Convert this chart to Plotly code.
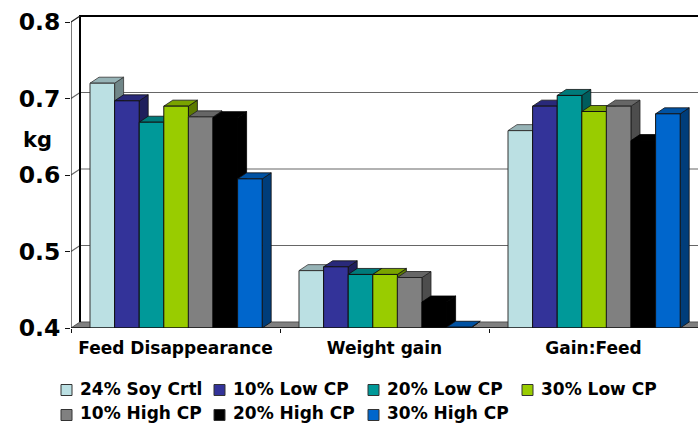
import plotly.graph_objects as go

categories = ["Feed Disappearance", "Weight gain", "Gain:Feed"]
series_names = ["24% Soy Crtl", "10% Low CP", "20% Low CP", "30% Low CP",
                "10% High CP", "20% High CP", "30% High CP"]
soy_ctrl = [0.720, 0.475, 0.658]
low_10 = [0.697, 0.480, 0.690]
low_20 = [0.669, 0.470, 0.704]
low_30 = [0.690, 0.470, 0.683]
high_10 = [0.676, 0.466, 0.690]
high_20 = [0.675, 0.434, 0.645]
high_30 = [0.595, 0.401, 0.680]
all_values = [soy_ctrl, low_10, low_20, low_30, high_10, high_20, high_30]
y_ticks = [0.4, 0.5, 0.6, 0.7, 0.8]

front = ["#BBE0E3", "#333399", "#009999", "#99CC00", "#808080", "#000000", "#0066CC"]
top = ["#96B3B6", "#29297A", "#007A7A", "#7AA300", "#666666", "#000000", "#0052A3"]
side = ["#708688", "#1F1F5C", "#005C5C", "#5C7A00", "#4D4D4D", "#000000", "#003D7A"]
edge = ["#333333", "#111111", "#111111", "#111111", "#222222", "#000000", "#111111"]

W, H = 698, 424
ML, MT, MB = 71, 12, 96
PW, PH = W - ML, H - MT - MB
PX_PER_CAT = PW / 3
PX_PER_UNIT = 765
Y_TOP = 0.4 + PH / PX_PER_UNIT
DX = 9 / PX_PER_CAT
DY = 6 / PX_PER_UNIT
BAR = 24.6 / PX_PER_CAT
GAP = 19 / PX_PER_CAT
FONT = "DejaVu Sans"

fig = go.Figure()

# floor
fig.add_trace(go.Scatter(x=[0, DX, 3 + DX, 3, 0], y=[0.4, 0.4 + DY, 0.4 + DY, 0.4, 0.4],
                         mode="lines", fill="toself", fillcolor="#808080",
                         line=dict(color="#555555", width=1), hoverinfo="skip",
                         showlegend=False, zorder=0))
# back wall gridlines and connecting ticks
gx, gy = [], []
for t in y_ticks[1:-1]:
    gx += [0, DX, 3 + DX, None]
    gy += [t, t + DY, t + DY, None]
fig.add_trace(go.Scatter(x=gx, y=gy, mode="lines", line=dict(color="#666666", width=1.2),
                         hoverinfo="skip", showlegend=False, zorder=0))
# wall frame
fig.add_trace(go.Scatter(x=[DX, DX, 3 + DX], y=[0.4 + DY, 0.8 + DY, 0.8 + DY], mode="lines",
                         line=dict(color="#000000", width=2), hoverinfo="skip",
                         showlegend=False, zorder=0))
fig.add_trace(go.Scatter(x=[0, 0, None, 0, DX], y=[0.4, 0.8, None, 0.8, 0.8 + DY], mode="lines",
                         line=dict(color="#222222", width=1.2), hoverinfo="skip",
                         showlegend=False, zorder=0))

z = 1
for i, (name, vals) in enumerate(zip(series_names, all_values)):
    sx, sy, tx, ty = [], [], [], []
    centers = []
    for c, v in enumerate(vals):
        x0 = c + GAP + i * BAR
        x1 = x0 + BAR
        centers.append((x0 + x1) / 2)
        sx += [x1, x1 + DX, x1 + DX, x1, x1, None]
        sy += [0.4, 0.4 + DY, v + DY, v, 0.4, None]
        tx += [x0, x0 + DX, x1 + DX, x1, x0, None]
        ty += [v, v + DY, v + DY, v, v, None]
    fig.add_trace(go.Scatter(x=sx, y=sy, mode="lines", fill="toself", fillcolor=side[i],
                             line=dict(color=edge[i], width=0.8), hoverinfo="skip",
                             showlegend=False, zorder=z))
    fig.add_trace(go.Scatter(x=tx, y=ty, mode="lines", fill="toself", fillcolor=top[i],
                             line=dict(color=edge[i], width=0.8), hoverinfo="skip",
                             showlegend=False, zorder=z))
    fig.add_trace(go.Bar(x=centers, y=vals, width=BAR, name=name,
                         marker=dict(color=front[i], line=dict(color=edge[i], width=1)),
                         showlegend=False, zorder=z + 1))
    z += 2

# front baseline
fig.add_trace(go.Scatter(x=[0, 3], y=[0.4, 0.4], mode="lines", cliponaxis=False,
                         line=dict(color="#111111", width=1.5), hoverinfo="skip",
                         showlegend=False, zorder=z))

fig.update_layout(
    width=W, height=H, margin=dict(l=ML, r=0, t=MT, b=MB, autoexpand=False),
    paper_bgcolor="white", plot_bgcolor="white", barmode="overlay",
    font=dict(family=FONT, color="#000000"),
    xaxis=dict(range=[0, 3], tickmode="array", tickvals=[0.5, 1.5, 2.5], ticktext=categories,
               ticks="", showgrid=False, zeroline=False, showline=False,
               tickfont=dict(family=FONT, size=17, weight="bold"), ticklabelstandoff=8,
               minor=dict(tickmode="array", tickvals=[0, 1, 2, 3], ticks="outside", ticklen=4,
                          tickcolor="#111111", tickwidth=1, showgrid=False)),
    yaxis=dict(range=[0.4, Y_TOP], tickmode="array", tickvals=y_ticks,
               ticktext=[f"{t:.1f}" for t in y_ticks], ticks="outside", ticklen=5,
               tickcolor="#111111", tickwidth=1, showgrid=False, zeroline=False, showline=False,
               tickfont=dict(family=FONT, size=23.5, weight="bold")),
)


def px(x):
    return (x - ML) / PW


def py(y):
    return (H - MB - y) / PH


fig.add_annotation(text="kg", x=px(37), y=py(140), xref="paper", yref="paper", showarrow=False,
                   xanchor="center", yanchor="middle", font=dict(family=FONT, size=21, weight="bold"))

legend_x = [61, 214, 368, 522, 61, 214, 368]
legend_y = [390, 390, 390, 390, 415, 415, 415]
text_y = [389, 389, 389, 389, 413.5, 413.5, 413.5]
for name, color, lx, ly, ty_ in zip(series_names, front, legend_x, legend_y, text_y):
    fig.add_shape(type="rect", xref="paper", yref="paper", x0=px(lx), x1=px(lx + 11),
                  y0=py(ly + 5.5), y1=py(ly - 5.5), fillcolor=color,
                  line=dict(color="#333333", width=1))
    fig.add_annotation(text=name, x=px(lx + 17), y=py(ty_), xref="paper", yref="paper",
                       xanchor="left", yanchor="middle", showarrow=False,
                       font=dict(family=FONT, size=17, weight="bold"))

fig.write_html("out.html", config=dict(displayModeBar=False),
               post_script="document.body.style.margin='0';document.documentElement.style.overflow='hidden';")
